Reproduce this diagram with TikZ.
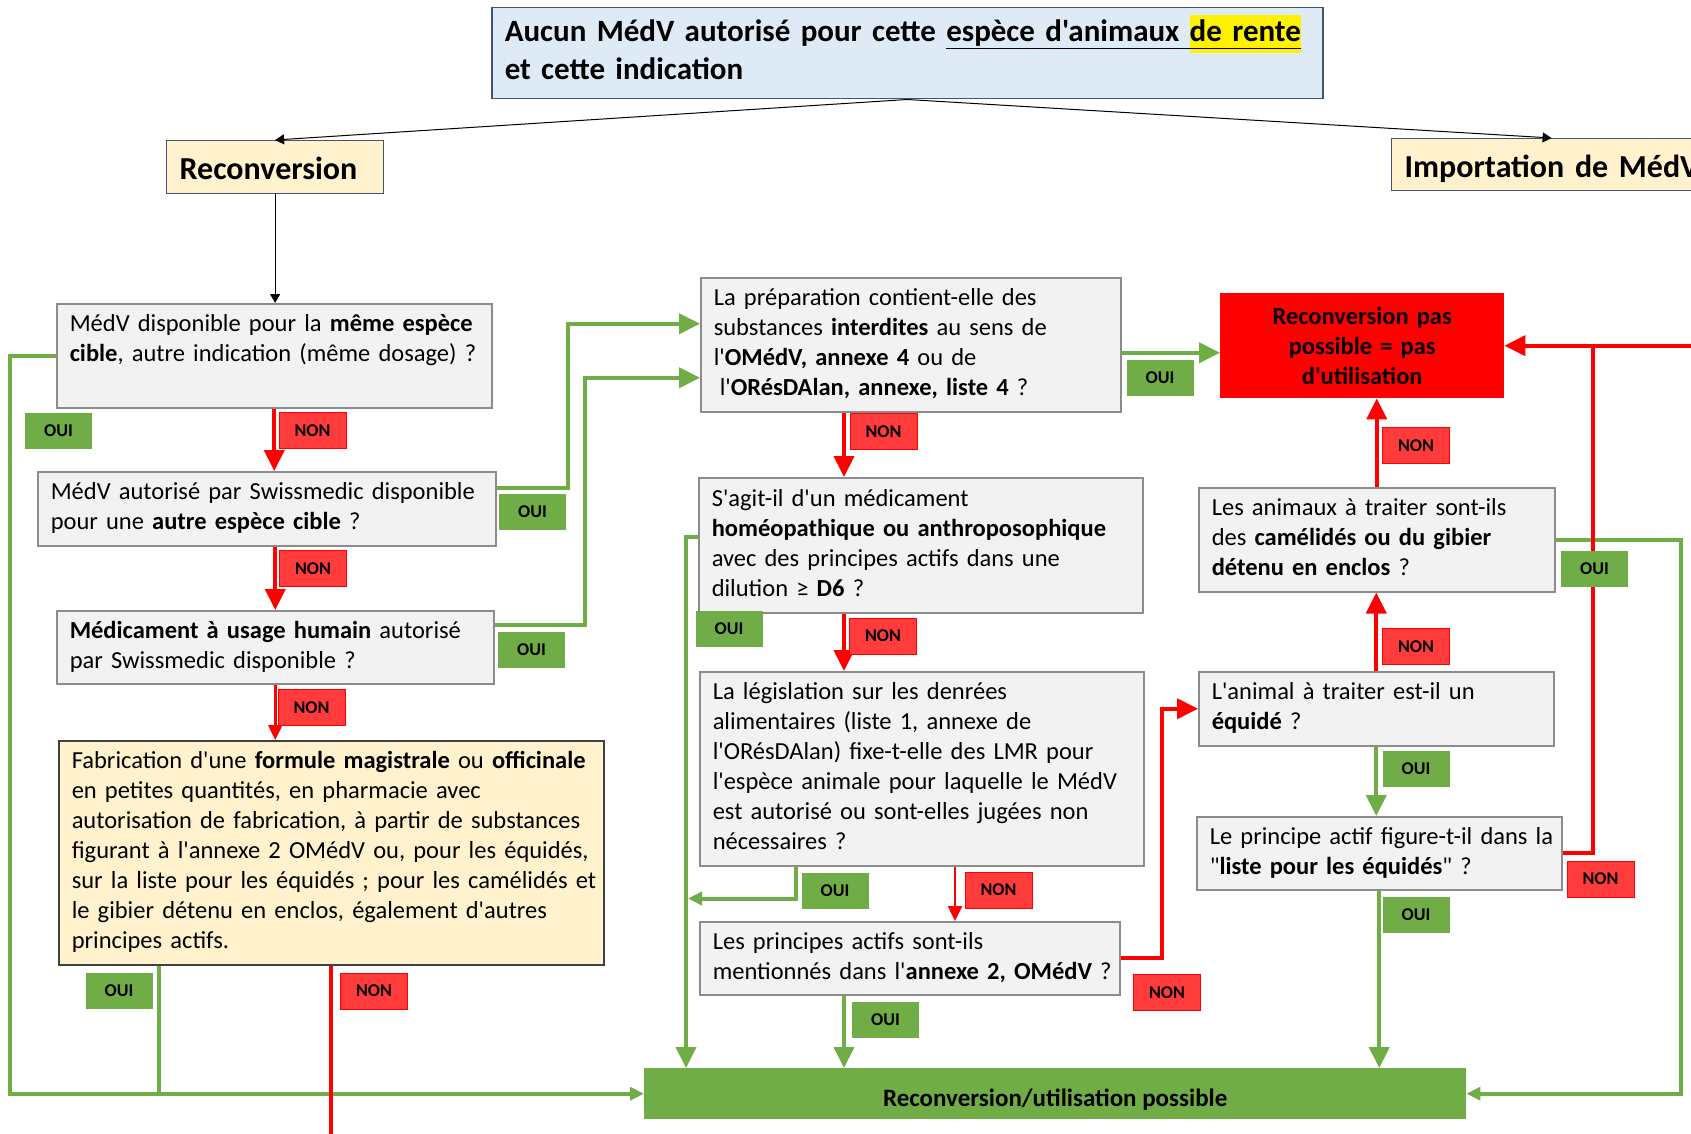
\documentclass[tikz,border=0pt]{standalone}
\usepackage{fontspec}
\setmainfont{Carlito}[Ligatures=TeXOff]
\usepackage{xcolor}
\usepackage{tikz}
\usetikzlibrary{arrows.meta}

\definecolor{okgreen}{HTML}{70AD47}
\definecolor{stopred}{HTML}{FF0000}
\definecolor{tagred}{HTML}{FF3B3B}
\definecolor{qfill}{HTML}{F2F2F2}
\definecolor{qframe}{HTML}{8C8C8C}
\definecolor{cream}{HTML}{FFF2CC}
\definecolor{skyfill}{HTML}{DEEBF7}
\definecolor{slate}{HTML}{44546A}
\definecolor{darkframe}{HTML}{404040}

\newcommand{\qfont}{\fontsize{24.5}{30}\selectfont}
\newcommand{\topfont}{\fontsize{31}{38}\selectfont\bfseries}
\newcommand{\headfont}{\fontsize{32}{39}\selectfont\bfseries}
\newcommand{\resfont}{\fontsize{24.5}{30}\selectfont\bfseries}
\newcommand{\tagfont}{\fontsize{18}{20}\selectfont\bfseries}
\newcommand{\qlines}[1]{\begin{tabular}{@{}l@{}}#1\end{tabular}}
\newcommand{\hilite}[1]{\smash{{\setlength{\fboxsep}{0pt}\colorbox{yellow}{\strut #1}}}}

\tikzset{
  qbox/.style={draw=qframe, fill=qfill, line width=1.5pt, anchor=north west,
    inner xsep=13pt, inner ysep=0pt, align=left, font=\qfont},
  headbox/.style={draw=slate, fill=cream, line width=1.2pt, anchor=north west,
    inner xsep=13pt, inner ysep=0pt, align=left, font=\headfont},
  ouitag/.style={fill=okgreen, minimum width=67pt, minimum height=36pt, inner sep=0pt, font=\tagfont},
  nontag/.style={fill=tagred, draw=stopred, line width=1pt, minimum width=67pt, minimum height=36pt, inner sep=0pt, font=\tagfont},
  gline/.style={draw=okgreen, line width=4pt},
  garrow/.style={gline, -{Triangle[length=21pt,width=20pt]}},
  gsmallarrow/.style={gline, -{Triangle[length=14pt,width=13pt]}},
  rline/.style={draw=stopred, line width=4pt},
  rarrow/.style={rline, -{Triangle[length=21pt,width=20pt]}},
  rthinarrow/.style={draw=stopred, line width=2.5pt, -{Triangle[length=15pt,width=14pt]}},
  flow/.style={draw=black, line width=1pt, -{Triangle[length=9pt,width=10pt]}},
}

\begin{document}
\begin{tikzpicture}[x=1pt, y=-1pt]
  \fill[white] (0,0) rectangle (1691,1134);
  \useasboundingbox (0,0) rectangle (1691,1134);
  \clip (0,0) rectangle (1691,1134);

  \node (top) [anchor=north west, draw=slate, fill=skyfill, line width=1.5pt, minimum width=831pt, minimum height=91pt,
    text width=805pt, inner xsep=13pt, inner ysep=0pt, align=left, font=\topfont] at (491,7)
    {\qlines{Aucun MédV autorisé pour cette \underline{espèce d'animaux \hilite{de rente}}\\ et cette indication}};
  \node (reconv) [headbox, minimum width=217pt, minimum height=53pt, text width=191pt, text height=26pt, text depth=4pt] at (166,140) {\qlines{Reconversion}};
  \node (import) [headbox, minimum width=320pt, minimum height=52pt, text width=294pt, text height=26pt, text depth=4pt] at (1391,138) {\qlines{Importation de MédV}};

  \node (q1) [qbox, minimum width=435pt, minimum height=104pt, text width=409pt] at (56,303)
    {\qlines{MédV disponible pour la \textbf{même espèce}\\ \textbf{cible}, autre indication (même dosage) ?\\ \mbox{}}};
  \node (q2) [qbox, minimum width=458pt, minimum height=74pt, text width=432pt] at (37,471)
    {\qlines{MédV autorisé par Swissmedic disponible\\ pour une \textbf{autre espèce cible} ?}};
  \node (q3) [qbox, minimum width=437pt, minimum height=73pt, text width=411pt] at (56,610)
    {\qlines{\textbf{Médicament à usage humain} autorisé\\ par Swissmedic disponible ?}};
  \node (q5) [qbox, draw=darkframe, fill=cream, minimum width=545pt, minimum height=224pt, text width=519pt] at (58,740)
    {\qlines{Fabrication d'une \textbf{formule magistrale} ou \textbf{officinale}\\ en petites quantités, en pharmacie avec\\
     autorisation de fabrication, à partir de substances\\ figurant à l'annexe 2 OMédV ou, pour les équidés,\\
     sur la liste pour les équidés ; pour les camélidés et\\ le gibier détenu en enclos, également d'autres\\ principes actifs.}};

  \node (q4) [qbox, minimum width=420pt, minimum height=134pt, text width=394pt] at (700,277)
    {\qlines{La préparation contient-elle des\\ substances \textbf{interdites} au sens de\\
     l'\textbf{OMédV, annexe 4} ou de\\ \hspace{6pt}l'\textbf{ORésDAlan, annexe, liste 4} ?}};
  \node (q6) [qbox, minimum width=444pt, minimum height=135pt, text width=418pt] at (698,477)
    {\qlines{S'agit-il d'un médicament\\ \textbf{homéopathique ou anthroposophique}\\
     avec des principes actifs dans une\\ dilution ≥ \textbf{D6} ?}};
  \node (q7) [qbox, minimum width=444pt, minimum height=194pt, text width=418pt] at (699,671)
    {\qlines{La législation sur les denrées\\ alimentaires (liste 1, annexe de\\ l'ORésDAlan) fixe-t-elle des LMR pour\\
     l'espèce animale pour laquelle le MédV\\ est autorisé ou sont-elles jugées non\\ nécessaires ?}};
  \node (q8) [qbox, minimum width=420pt, minimum height=73pt, text width=394pt] at (699,921)
    {\qlines{Les principes actifs sont-ils\\ mentionnés dans l'\textbf{annexe 2, OMédV} ?}};

  \node (stop) [anchor=north west, fill=stopred, minimum width=284pt, minimum height=105pt, text width=260pt,
    inner sep=0pt, align=center, font=\resfont] at (1220,293) {Reconversion pas\\ possible = pas\\ d'utilisation};
  \node (q10) [qbox, minimum width=356pt, minimum height=104pt, text width=330pt] at (1198,487)
    {\qlines{Les animaux à traiter sont-ils\\ des \textbf{camélidés ou du gibier}\\ \textbf{détenu en enclos} ?}};
  \node (q9) [qbox, minimum width=355pt, minimum height=74pt, text width=329pt] at (1198,671)
    {\qlines{L'animal à traiter est-il un\\ \textbf{équidé} ?}};
  \node (q11) [qbox, minimum width=365pt, minimum height=73pt, text width=339pt] at (1196,816)
    {\qlines{Le principe actif figure-t-il dans la\\ "\textbf{liste pour les équidés}" ?}};

  \node (main) [anchor=north west, fill=okgreen, minimum width=822pt, minimum height=51pt, inner sep=0pt,
    text height=26pt, text depth=0pt, font=\fontsize{25}{30}\selectfont\bfseries]
    at (644,1068) {Reconversion/utilisation possible};

  \coordinate (j7) at ([xshift=-11,yshift=-32]q7.south west);
  \coordinate (offr) at ([xshift=200]stop.east);
  \coordinate (offb) at ([yshift=-190]q5.south);

  % top level
  \draw [flow] (top.south) -- (reconv.north);
  \draw [flow] (top.south) -- (import.north);
  \draw [flow] (reconv.south) -- (reconv.south |- q1.north);

  % green: oui
  \draw [gsmallarrow] (q1.west) -- ++(-46,0) |- (main.west);
  \draw [gline] ([xshift=101]q5.south west) -- ([xshift=101]q5.south west |- main.west);
  \draw [garrow] ([yshift=21]q2.east) -- ++(71,0) |- ([yshift=21]q4.west);
  \draw [garrow] ([yshift=22]q3.east) -- ++(90,0) |- ([yshift=-33]q4.west);
  \draw [garrow] ([yshift=-8]q4.east) -- ([yshift=-8]q4.east -| stop.west);
  \draw [garrow] ([yshift=8]q6.west) -| ([xshift=42]main.north west);
  \draw [gsmallarrow] ([xshift=97]q7.south west) |- (j7);
  \draw [garrow] ([xshift=145]q8.south west) -- ([xshift=145]q8.south west |- main.north);
  \draw [garrow] (q9.south) -- (q9.south |- q11.north);
  \draw [garrow] (q11.south) -- (q11.south |- main.north);
  \draw [gsmallarrow] (q10.east) -- ++(125,0) |- (main.east);

  % red: non
  \draw [rarrow] (q1.south) -- (q1.south |- q2.north);
  \draw [rarrow] (q3.north |- q2.south) -- (q3.north);
  \draw [rthinarrow] (q3.south) -- (q3.south |- q5.north);
  \draw [rline] (q5.south) -- (offb);
  \draw [rarrow] ([xshift=144]q4.south west) -- ([xshift=144]q4.south west |- q6.north);
  \draw [rarrow] ([xshift=146]q6.south west) -- ([xshift=146]q6.south west |- q7.north);
  \draw [rthinarrow] ([xshift=256]q7.south west) -- ([xshift=256]q7.south west |- q8.north);
  \draw [rarrow] (q8.east) -- ++(41,0) |- (q9.west);
  \draw [rarrow] (q9.north) -- (q9.north |- q10.south);
  \draw [rarrow] (q10.north) -- (q10.north |- stop.south);
  \draw [rline] (q11.east) -| ([xshift=89]stop.east);
  \draw [rarrow] (offr) -- (stop.east);

  \node (o1) [ouitag] at (58.5,431) {OUI};
  \node (o2) [ouitag] at (532.5,512) {OUI};
  \node (o3) [ouitag] at (531.5,649.5) {OUI};
  \node (o5) [ouitag] at (119,991) {OUI};
  \node (o4) [ouitag] at (1160,377.5) {OUI};
  \node (o6) [ouitag] at (729,629) {OUI};
  \node (o7) [ouitag] at (835,890.5) {OUI};
  \node (o8) [ouitag] at (885.5,1020) {OUI};
  \node (o10) [ouitag] at (1594.5,568.5) {OUI};
  \node (o9) [ouitag] at (1416,769) {OUI};
  \node (o11) [ouitag] at (1416,915) {OUI};

  \node (n1) [nontag] at (312.5,430.5) {NON};
  \node (n2) [nontag] at (313,568.5) {NON};
  \node (n3) [nontag] at (311.5,707.5) {NON};
  \node (n5) [nontag] at (374,991) {NON};
  \node (n4) [nontag] at (883.5,431.5) {NON};
  \node (n6) [nontag] at (883,636) {NON};
  \node (n7) [nontag] at (998.5,890) {NON};
  \node (n8) [nontag] at (1167,992.5) {NON};
  \node (n10) [nontag] at (1416,445.5) {NON};
  \node (n9) [nontag] at (1416,646.5) {NON};
  \node (n11) [nontag] at (1600.5,879) {NON};
\end{tikzpicture}
\end{document}
